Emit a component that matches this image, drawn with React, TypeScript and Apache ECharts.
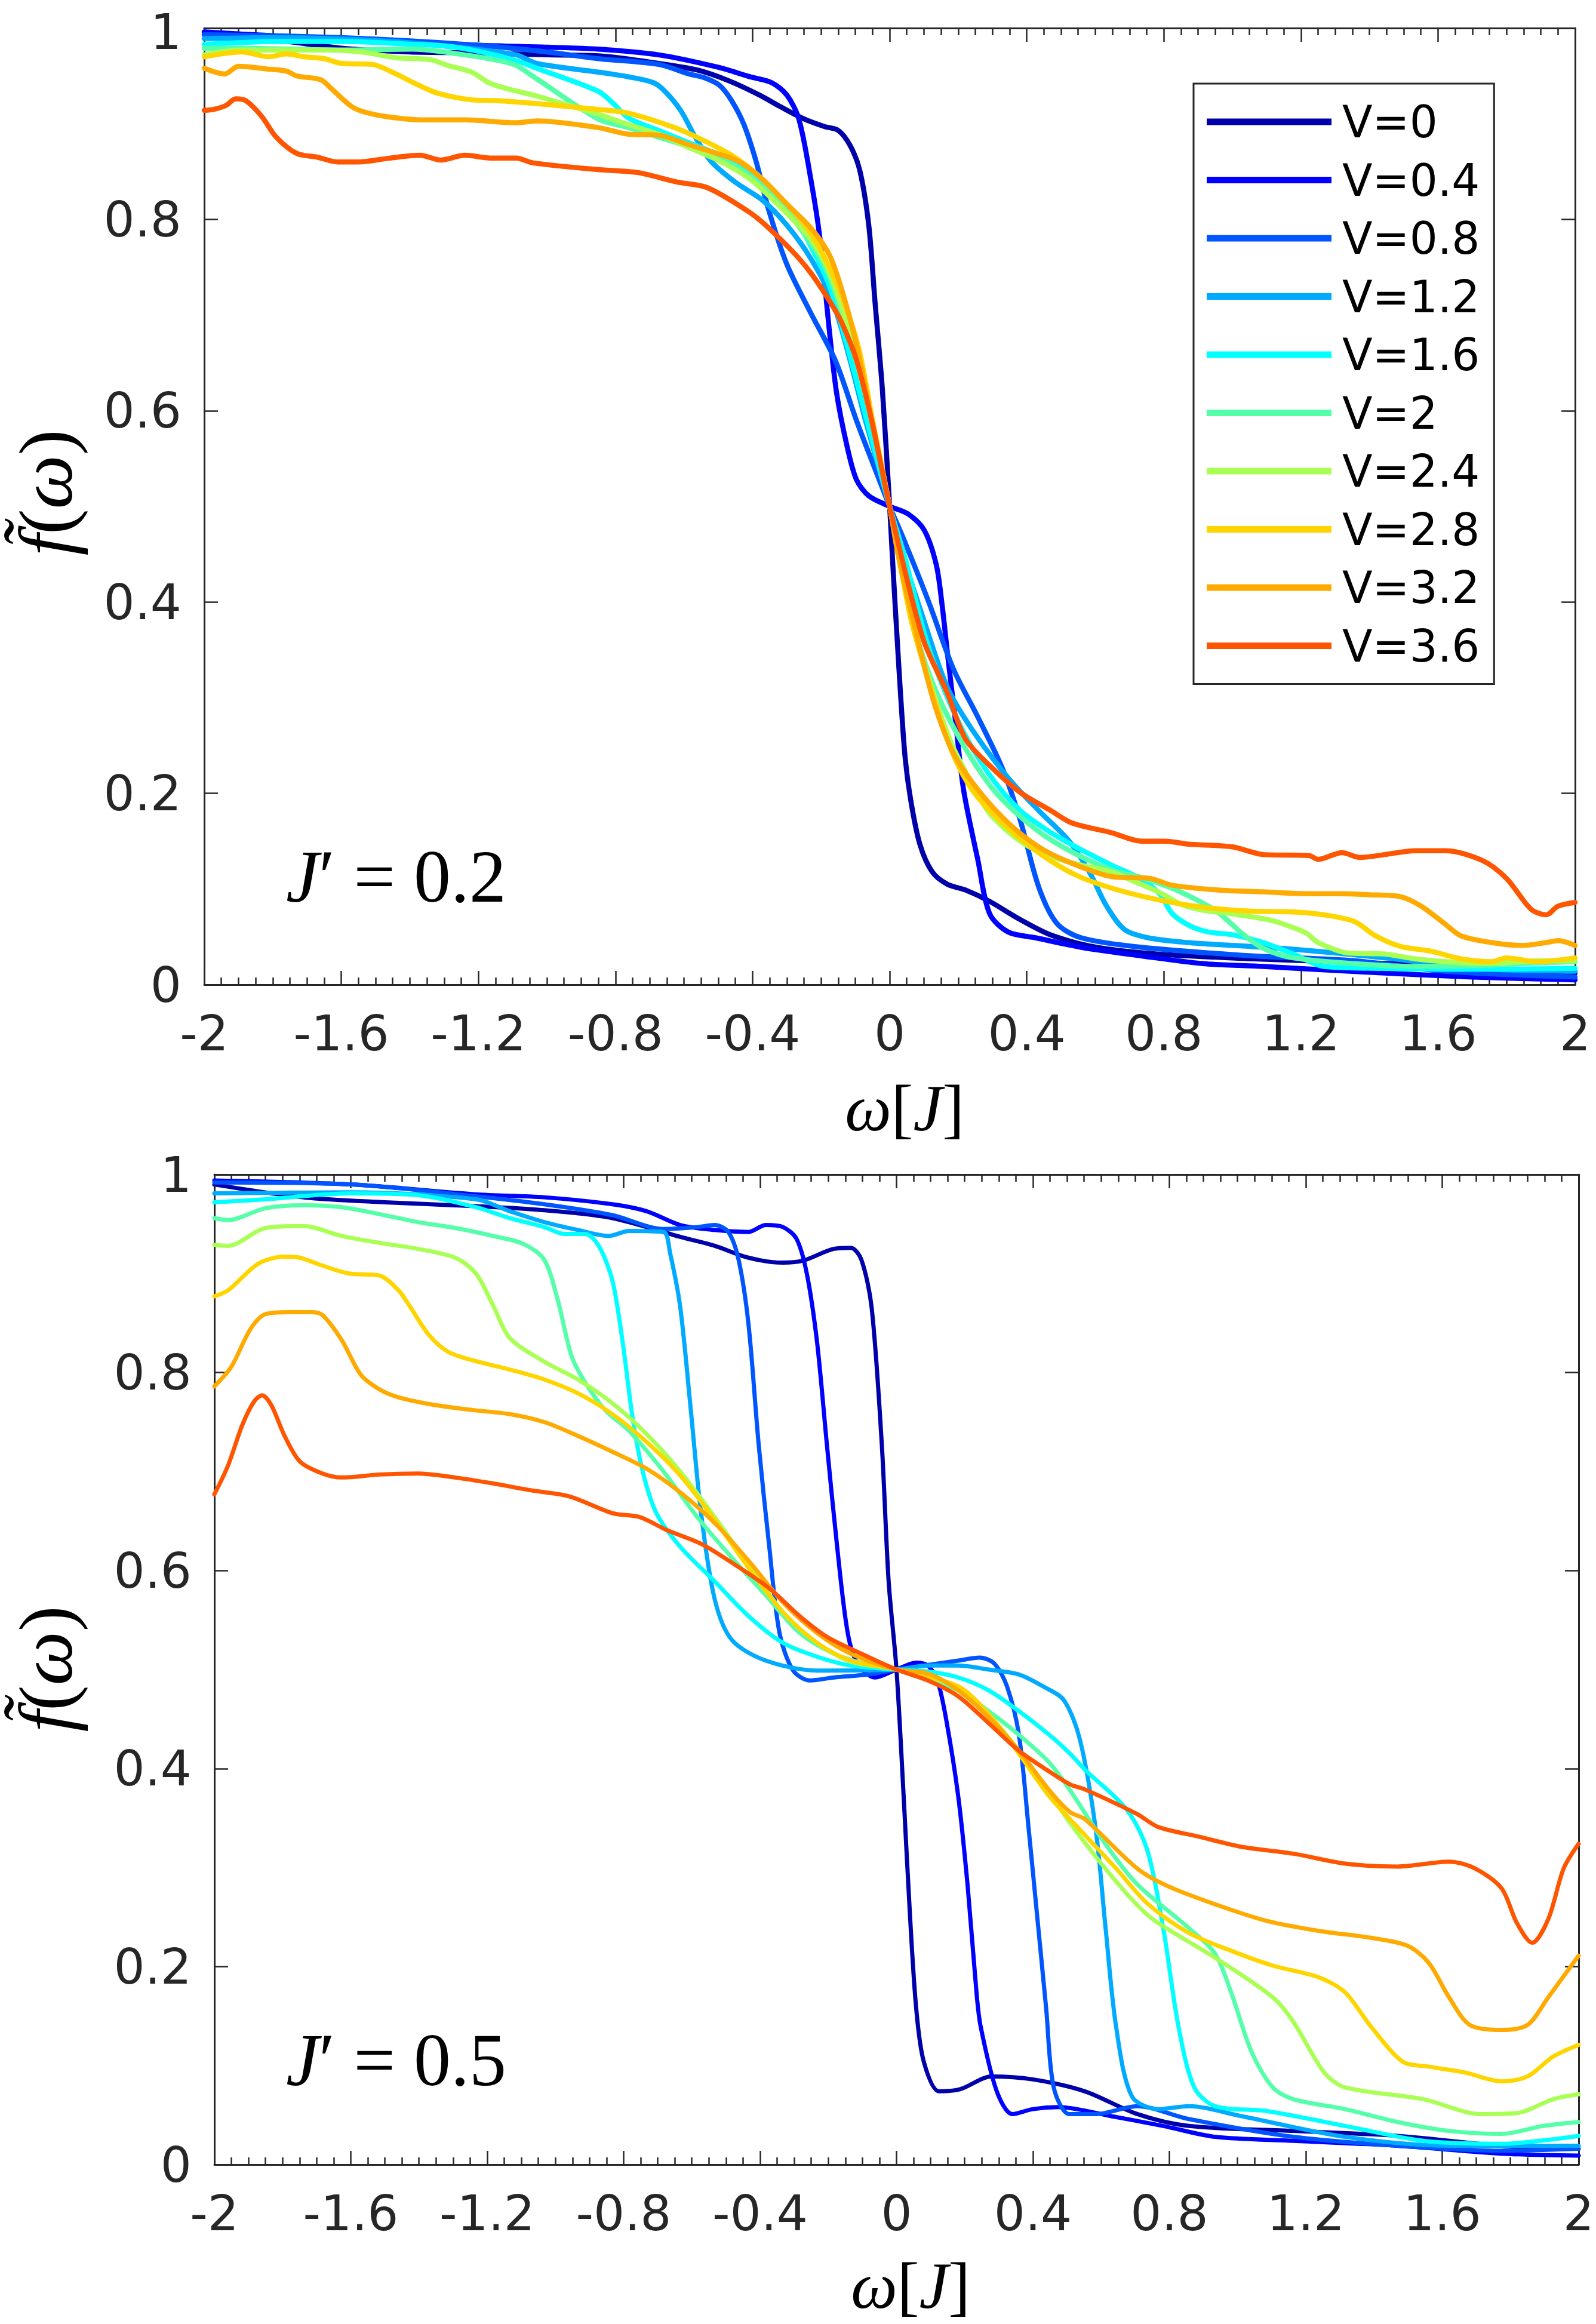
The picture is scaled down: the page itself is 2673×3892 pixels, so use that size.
import React, { useEffect, useRef } from "react";
import * as echarts from "echarts";

// ---------- legend / series meta ----------
const seriesNames = ["V=0", "V=0.4", "V=0.8", "V=1.2", "V=1.6", "V=2", "V=2.4", "V=2.8", "V=3.2", "V=3.6"];
const seriesColors = ["#0000AA", "#0000FF", "#0055FF", "#00AAFF", "#00FFFF", "#55FFAA", "#AAFF55", "#FFD500", "#FFAA00", "#FF5500"];

const xTickLabels = ["-2", "-1.6", "-1.2", "-0.8", "-0.4", "0", "0.4", "0.8", "1.2", "1.6", "2"];
const yTickLabels = ["0", "0.2", "0.4", "0.6", "0.8", "1"];

// ---------- top panel, J' = 0.2 : [omega, f] ----------
const topV0 = [[-2,0.993],[-1.8,0.988],[-1.6,0.979],[-1.4,0.975],[-1.2,0.974],[-1.0,0.972],[-0.85,0.971],[-0.674,0.963],[-0.56,0.956],[-0.47,0.945],[-0.38,0.93],[-0.32,0.918],[-0.25,0.905],[-0.19,0.897],[-0.15,0.893],[-0.115,0.877],[-0.087,0.851],[-0.061,0.794],[-0.043,0.715],[-0.021,0.621],[0,0.5],[0.008,0.447],[0.026,0.337],[0.044,0.242],[0.061,0.194],[0.088,0.147],[0.124,0.118],[0.168,0.105],[0.221,0.099],[0.292,0.087],[0.381,0.068],[0.47,0.052],[0.604,0.039],[0.781,0.032],[1.063,0.027],[1.3,0.024],[1.6,0.02],[2,0.012]];
const topV04 = [[-2,0.996],[-1.8,0.992],[-1.5,0.987],[-1.2,0.982],[-1.0,0.98],[-0.85,0.978],[-0.674,0.972],[-0.5,0.959],[-0.407,0.949],[-0.345,0.943],[-0.3,0.93],[-0.265,0.905],[-0.23,0.842],[-0.203,0.779],[-0.176,0.684],[-0.155,0.619],[-0.125,0.564],[-0.097,0.528],[-0.061,0.511],[0,0.5],[0.054,0.492],[0.101,0.475],[0.136,0.439],[0.153,0.397],[0.17,0.342],[0.193,0.273],[0.216,0.203],[0.257,0.131],[0.292,0.074],[0.346,0.055],[0.426,0.049],[0.559,0.039],[0.736,0.03],[0.914,0.022],[1.09,0.019],[1.4,0.013],[1.7,0.008],[2,0.005]];
const topV08 = [[-2,0.993],[-1.6,0.99],[-1.2,0.982],[-1.0,0.975],[-0.85,0.968],[-0.674,0.962],[-0.585,0.952],[-0.54,0.948],[-0.496,0.94],[-0.461,0.924],[-0.425,0.899],[-0.39,0.861],[-0.353,0.81],[-0.3,0.753],[-0.23,0.702],[-0.158,0.652],[-0.096,0.589],[-0.035,0.532],[0,0.5],[0.044,0.463],[0.114,0.4],[0.186,0.33],[0.257,0.28],[0.329,0.226],[0.381,0.172],[0.435,0.102],[0.488,0.064],[0.559,0.049],[0.736,0.039],[1.063,0.03],[1.356,0.025],[1.62,0.014],[2,0.008]];
const topV12 = [[-2,0.989],[-1.8,0.99],[-1.5,0.987],[-1.29,0.981],[-1.09,0.972],[-1.03,0.963],[-0.851,0.954],[-0.762,0.949],[-0.69,0.943],[-0.656,0.934],[-0.61,0.914],[-0.567,0.886],[-0.522,0.861],[-0.451,0.839],[-0.371,0.82],[-0.3,0.794],[-0.23,0.759],[-0.167,0.715],[-0.115,0.652],[-0.07,0.589],[0,0.5],[0.026,0.463],[0.097,0.384],[0.168,0.311],[0.24,0.267],[0.346,0.216],[0.435,0.182],[0.524,0.15],[0.587,0.115],[0.63,0.084],[0.684,0.058],[0.754,0.049],[0.87,0.044],[1.0,0.041],[1.178,0.037],[1.445,0.028],[1.711,0.017],[2,0.014]];
const topV16 = [[-2,0.983],[-1.79,0.986],[-1.59,0.986],[-1.39,0.983],[-1.29,0.981],[-1.19,0.975],[-1.09,0.966],[-1.03,0.958],[-0.851,0.934],[-0.806,0.921],[-0.762,0.906],[-0.674,0.893],[-0.585,0.88],[-0.496,0.867],[-0.425,0.851],[-0.353,0.829],[-0.282,0.804],[-0.23,0.772],[-0.176,0.731],[-0.124,0.668],[-0.07,0.595],[0,0.5],[0.044,0.447],[0.114,0.352],[0.203,0.273],[0.292,0.219],[0.381,0.182],[0.47,0.159],[0.559,0.141],[0.647,0.125],[0.736,0.11],[0.79,0.094],[0.825,0.074],[0.879,0.061],[0.931,0.055],[1.003,0.052],[1.09,0.044],[1.178,0.032],[1.267,0.019],[1.445,0.017],[1.7,0.016],[2,0.017]];
const topV20 = [[-2,0.979],[-1.9,0.979],[-1.59,0.977],[-1.39,0.978],[-1.24,0.972],[-1.14,0.966],[-1.09,0.961],[-1.03,0.947],[-0.851,0.905],[-0.762,0.896],[-0.674,0.886],[-0.585,0.876],[-0.496,0.864],[-0.407,0.845],[-0.319,0.816],[-0.23,0.775],[-0.176,0.74],[-0.12,0.68],[-0.06,0.6],[0,0.5],[0.06,0.39],[0.12,0.32],[0.2,0.26],[0.3,0.205],[0.4,0.17],[0.5,0.145],[0.646,0.12],[0.735,0.112],[0.823,0.101],[0.894,0.089],[0.957,0.076],[1.027,0.054],[1.09,0.038],[1.178,0.028],[1.356,0.022],[1.533,0.019],[1.711,0.02],[1.845,0.022],[2,0.024]];
const topV24 = [[-2,0.972],[-1.89,0.977],[-1.64,0.977],[-1.54,0.975],[-1.44,0.969],[-1.34,0.967],[-1.29,0.961],[-1.22,0.954],[-1.17,0.943],[-1.12,0.937],[-1.03,0.929],[-0.851,0.91],[-0.762,0.899],[-0.674,0.889],[-0.585,0.875],[-0.496,0.861],[-0.407,0.842],[-0.319,0.813],[-0.23,0.779],[-0.176,0.745],[-0.12,0.685],[-0.06,0.605],[0,0.5],[0.06,0.388],[0.114,0.32],[0.177,0.255],[0.24,0.21],[0.292,0.179],[0.381,0.15],[0.47,0.134],[0.559,0.125],[0.647,0.118],[0.7,0.11],[0.79,0.096],[0.85,0.084],[0.912,0.078],[1.0,0.074],[1.09,0.069],[1.135,0.065],[1.215,0.054],[1.25,0.044],[1.339,0.033],[1.445,0.032],[1.533,0.027],[1.622,0.024],[1.756,0.022],[1.889,0.025],[2,0.025]];
const topV28 = [[-2,0.97],[-1.89,0.975],[-1.81,0.97],[-1.76,0.973],[-1.71,0.97],[-1.65,0.968],[-1.6,0.963],[-1.51,0.962],[-1.44,0.952],[-1.39,0.943],[-1.32,0.932],[-1.22,0.925],[-1.14,0.924],[-1.03,0.921],[-0.851,0.915],[-0.762,0.911],[-0.628,0.896],[-0.54,0.882],[-0.461,0.867],[-0.39,0.848],[-0.319,0.823],[-0.247,0.794],[-0.194,0.763],[-0.14,0.72],[-0.09,0.665],[-0.05,0.59],[0,0.5],[0.061,0.384],[0.114,0.317],[0.177,0.248],[0.24,0.204],[0.329,0.169],[0.435,0.138],[0.541,0.115],[0.647,0.101],[0.78,0.089],[0.912,0.081],[1.046,0.077],[1.178,0.076],[1.267,0.073],[1.356,0.066],[1.418,0.051],[1.49,0.04],[1.579,0.035],[1.667,0.027],[1.756,0.024],[1.8,0.028],[1.889,0.024],[2,0.028]];
const topV32 = [[-2,0.958],[-1.94,0.952],[-1.9,0.96],[-1.81,0.957],[-1.76,0.955],[-1.73,0.95],[-1.66,0.946],[-1.63,0.937],[-1.57,0.918],[-1.53,0.912],[-1.46,0.907],[-1.36,0.904],[-1.24,0.904],[-1.09,0.901],[-1.03,0.903],[-0.851,0.896],[-0.762,0.889],[-0.674,0.888],[-0.585,0.878],[-0.513,0.87],[-0.442,0.861],[-0.371,0.842],[-0.3,0.816],[-0.23,0.791],[-0.176,0.763],[-0.141,0.728],[-0.096,0.668],[-0.052,0.589],[0,0.5],[0.026,0.447],[0.088,0.352],[0.132,0.292],[0.186,0.242],[0.257,0.204],[0.346,0.169],[0.435,0.144],[0.524,0.128],[0.647,0.113],[0.761,0.111],[0.823,0.104],[0.957,0.099],[1.09,0.097],[1.223,0.095],[1.312,0.095],[1.4,0.094],[1.49,0.092],[1.551,0.082],[1.622,0.063],[1.667,0.051],[1.756,0.044],[1.845,0.041],[1.916,0.044],[1.951,0.046],[2,0.041]];
const topV36 = [[-2,0.914],[-1.972,0.915],[-1.937,0.919],[-1.908,0.926],[-1.878,0.924],[-1.833,0.908],[-1.79,0.886],[-1.73,0.869],[-1.67,0.865],[-1.61,0.86],[-1.55,0.86],[-1.46,0.864],[-1.37,0.867],[-1.31,0.862],[-1.24,0.867],[-1.16,0.864],[-1.09,0.864],[-1.04,0.859],[-0.851,0.852],[-0.736,0.849],[-0.62,0.839],[-0.531,0.833],[-0.407,0.807],[-0.353,0.791],[-0.282,0.766],[-0.23,0.744],[-0.176,0.715],[-0.141,0.693],[-0.096,0.652],[-0.052,0.589],[0,0.5],[0.097,0.362],[0.168,0.305],[0.221,0.257],[0.292,0.229],[0.381,0.201],[0.47,0.182],[0.532,0.169],[0.646,0.159],[0.735,0.15],[0.806,0.15],[0.868,0.147],[1.0,0.144],[1.09,0.136],[1.223,0.135],[1.25,0.131],[1.32,0.138],[1.373,0.133],[1.445,0.136],[1.533,0.14],[1.622,0.14],[1.728,0.13],[1.8,0.111],[1.871,0.079],[1.916,0.073],[1.95,0.082],[2,0.086]];

// ---------- bottom panel, J' = 0.5 : [omega, f] ----------
const botV0 = [[-2,0.99],[-1.74,0.977],[-1.5,0.972],[-1.233,0.968],[-1.033,0.964],[-0.833,0.956],[-0.634,0.937],[-0.533,0.928],[-0.434,0.916],[-0.333,0.911],[-0.274,0.913],[-0.183,0.925],[-0.134,0.926],[-0.103,0.914],[-0.073,0.866],[-0.043,0.727],[-0.023,0.589],[0,0.5],[0.021,0.372],[0.04,0.249],[0.058,0.157],[0.08,0.104],[0.125,0.074],[0.186,0.076],[0.279,0.089],[0.4,0.086],[0.552,0.074],[0.706,0.051],[0.857,0.039],[1.164,0.034],[1.469,0.029],[1.774,0.019],[2,0.016]];
const botV04 = [[-2,0.994],[-1.6,0.99],[-1.233,0.98],[-1.033,0.977],[-0.833,0.97],[-0.733,0.963],[-0.634,0.949],[-0.533,0.944],[-0.434,0.942],[-0.383,0.949],[-0.333,0.947],[-0.293,0.935],[-0.263,0.9],[-0.233,0.831],[-0.204,0.727],[-0.174,0.624],[-0.143,0.537],[-0.113,0.505],[-0.063,0.492],[0,0.5],[0.058,0.507],[0.092,0.504],[0.12,0.489],[0.146,0.449],[0.181,0.372],[0.209,0.28],[0.235,0.172],[0.247,0.139],[0.294,0.074],[0.34,0.051],[0.4,0.056],[0.477,0.058],[0.628,0.049],[0.782,0.039],[0.934,0.028],[1.164,0.024],[1.469,0.019],[1.774,0.011],[2,0.009]];
const botV08 = [[-2,0.992],[-1.6,0.99],[-1.233,0.978],[-1.033,0.97],[-0.833,0.959],[-0.683,0.945],[-0.584,0.947],[-0.533,0.949],[-0.493,0.942],[-0.463,0.914],[-0.434,0.849],[-0.404,0.727],[-0.373,0.624],[-0.343,0.537],[-0.303,0.499],[-0.253,0.489],[-0.183,0.492],[-0.084,0.495],[0,0.5],[0.181,0.509],[0.244,0.512],[0.287,0.506],[0.324,0.483],[0.359,0.434],[0.387,0.341],[0.413,0.249],[0.439,0.157],[0.461,0.078],[0.507,0.051],[0.584,0.051],[0.706,0.059],[0.857,0.046],[1.164,0.028],[1.469,0.019],[1.774,0.014],[2,0.016]];
const botV12 = [[-2,0.981],[-1.6,0.982],[-1.233,0.975],[-1.134,0.963],[-1.033,0.952],[-0.934,0.944],[-0.843,0.938],[-0.784,0.943],[-0.683,0.942],[-0.664,0.921],[-0.634,0.866],[-0.603,0.762],[-0.573,0.658],[-0.533,0.571],[-0.483,0.53],[-0.383,0.509],[-0.233,0.499],[0,0.5],[0.092,0.504],[0.181,0.504],[0.27,0.5],[0.359,0.495],[0.43,0.483],[0.491,0.469],[0.538,0.429],[0.584,0.339],[0.613,0.239],[0.644,0.139],[0.69,0.069],[0.767,0.056],[0.857,0.059],[1.01,0.049],[1.315,0.028],[1.62,0.019],[2,0.019]];
const botV16 = [[-2,0.972],[-1.85,0.975],[-1.6,0.981],[-1.4,0.979],[-1.233,0.967],[-1.134,0.956],[-1.033,0.947],[-0.974,0.94],[-0.913,0.94],[-0.873,0.928],[-0.833,0.893],[-0.803,0.831],[-0.774,0.755],[-0.744,0.7],[-0.704,0.658],[-0.634,0.624],[-0.533,0.589],[-0.434,0.554],[-0.333,0.527],[-0.233,0.513],[-0.134,0.504],[0,0.5],[0.092,0.498],[0.181,0.492],[0.27,0.479],[0.359,0.458],[0.448,0.434],[0.509,0.415],[0.552,0.399],[0.674,0.359],[0.735,0.318],[0.782,0.239],[0.827,0.139],[0.873,0.078],[0.934,0.059],[1.087,0.054],[1.315,0.039],[1.545,0.024],[1.774,0.021],[2,0.029]];
const botV20 = [[-2,0.956],[-1.96,0.954],[-1.85,0.966],[-1.739,0.969],[-1.627,0.967],[-1.516,0.96],[-1.404,0.952],[-1.294,0.946],[-1.183,0.938],[-1.094,0.93],[-1.033,0.914],[-0.993,0.873],[-0.953,0.817],[-0.913,0.79],[-0.854,0.762],[-0.784,0.741],[-0.683,0.7],[-0.584,0.654],[-0.483,0.613],[-0.383,0.575],[-0.284,0.537],[-0.183,0.516],[-0.084,0.505],[0,0.5],[0.181,0.479],[0.27,0.458],[0.359,0.434],[0.448,0.406],[0.509,0.378],[0.61,0.325],[0.706,0.283],[0.857,0.239],[0.934,0.213],[0.981,0.174],[1.042,0.113],[1.103,0.078],[1.164,0.066],[1.315,0.056],[1.469,0.043],[1.62,0.034],[1.774,0.031],[1.895,0.039],[2,0.043]];
const botV24 = [[-2,0.929],[-1.96,0.928],[-1.85,0.946],[-1.739,0.948],[-1.627,0.938],[-1.516,0.931],[-1.404,0.925],[-1.294,0.916],[-1.233,0.9],[-1.183,0.868],[-1.134,0.835],[-1.033,0.811],[-0.934,0.793],[-0.833,0.769],[-0.733,0.738],[-0.634,0.7],[-0.533,0.654],[-0.434,0.606],[-0.333,0.558],[-0.233,0.527],[-0.134,0.508],[0,0.5],[0.181,0.482],[0.27,0.455],[0.359,0.418],[0.448,0.376],[0.509,0.345],[0.61,0.3],[0.706,0.262],[0.767,0.244],[0.934,0.209],[1.103,0.169],[1.164,0.144],[1.254,0.093],[1.315,0.078],[1.545,0.066],[1.713,0.051],[1.819,0.052],[1.925,0.066],[2,0.071]];
const botV28 = [[-2,0.877],[-1.96,0.883],[-1.871,0.91],[-1.794,0.917],[-1.749,0.916],[-1.683,0.908],[-1.605,0.9],[-1.516,0.898],[-1.46,0.883],[-1.427,0.867],[-1.371,0.838],[-1.315,0.821],[-1.239,0.812],[-1.134,0.803],[-1.033,0.793],[-0.934,0.779],[-0.833,0.758],[-0.733,0.73],[-0.634,0.696],[-0.533,0.651],[-0.434,0.603],[-0.333,0.558],[-0.233,0.527],[-0.134,0.509],[0,0.5],[0.181,0.483],[0.27,0.455],[0.359,0.415],[0.448,0.372],[0.552,0.333],[0.644,0.299],[0.735,0.264],[0.857,0.234],[0.981,0.216],[1.103,0.201],[1.239,0.189],[1.315,0.174],[1.392,0.139],[1.484,0.104],[1.56,0.099],[1.667,0.093],[1.774,0.084],[1.85,0.089],[1.925,0.109],[2,0.121]];
const botV32 = [[-2,0.786],[-1.95,0.806],[-1.894,0.844],[-1.85,0.859],[-1.782,0.861],[-1.716,0.861],[-1.683,0.858],[-1.627,0.833],[-1.571,0.798],[-1.516,0.783],[-1.46,0.775],[-1.35,0.767],[-1.239,0.762],[-1.134,0.758],[-1.033,0.75],[-0.934,0.736],[-0.833,0.72],[-0.733,0.703],[-0.634,0.679],[-0.533,0.648],[-0.434,0.61],[-0.333,0.568],[-0.233,0.537],[-0.134,0.516],[0,0.5],[0.092,0.496],[0.181,0.479],[0.27,0.452],[0.359,0.418],[0.448,0.378],[0.509,0.356],[0.552,0.349],[0.706,0.299],[0.797,0.281],[0.95,0.261],[1.087,0.246],[1.239,0.236],[1.392,0.229],[1.498,0.221],[1.56,0.204],[1.62,0.169],[1.681,0.141],[1.774,0.136],[1.85,0.141],[1.911,0.169],[2,0.211]];
const botV36 = [[-2,0.677],[-1.96,0.706],[-1.917,0.748],[-1.883,0.771],[-1.86,0.777],[-1.833,0.767],[-1.794,0.736],[-1.749,0.71],[-1.683,0.698],[-1.627,0.694],[-1.516,0.697],[-1.404,0.698],[-1.294,0.694],[-1.183,0.688],[-1.071,0.681],[-0.96,0.675],[-0.833,0.658],[-0.753,0.654],[-0.674,0.641],[-0.573,0.627],[-0.474,0.606],[-0.373,0.582],[-0.284,0.554],[-0.204,0.533],[-0.103,0.516],[0,0.5],[0.092,0.489],[0.181,0.473],[0.27,0.446],[0.359,0.418],[0.448,0.397],[0.509,0.384],[0.552,0.379],[0.706,0.354],[0.767,0.341],[0.889,0.331],[1.01,0.321],[1.164,0.314],[1.315,0.304],[1.469,0.301],[1.62,0.306],[1.697,0.299],[1.774,0.279],[1.819,0.244],[1.864,0.224],[1.911,0.248],[1.956,0.299],[2,0.324]];

const topData = [topV0, topV04, topV08, topV12, topV16, topV20, topV24, topV28, topV32, topV36];
const botData = [botV0, botV04, botV08, botV12, botV16, botV20, botV24, botV28, botV32, botV36];

const AX = "#262626";
const TICK_FONT = "'DejaVu Sans', sans-serif";
const MATH_FONT = "'Liberation Serif', 'DejaVu Serif', serif";

function fmt(v: number) {
  const r = Math.round(v * 10) / 10;
  return String(r === 0 ? 0 : r);
}

function makeX(gridIndex: number, pos: "bottom" | "top") {
  return {
    type: "value",
    gridIndex,
    position: pos,
    min: -2,
    max: 2,
    interval: 0.4,
    axisLine: { show: true, onZero: false, lineStyle: { color: AX, width: 3 } },
    axisTick: { show: true, inside: true, length: 23, lineStyle: { color: AX, width: 2.5 } },
    minorTick: { show: true, splitNumber: 8, length: 12, lineStyle: { color: AX, width: 2.5 } },
    splitLine: { show: false },
    axisLabel: {
      show: pos === "bottom",
      margin: 40,
      fontFamily: TICK_FONT,
      fontSize: 82,
      color: AX,
      formatter: (v: number) => {
        const s = fmt(v);
        return xTickLabels.indexOf(s) >= 0 ? s : "";
      },
    },
  };
}

function makeY(gridIndex: number, pos: "left" | "right", nudgeTop: boolean) {
  return {
    type: "value",
    gridIndex,
    position: pos,
    min: 0,
    max: 1,
    interval: 0.2,
    axisLine: { show: true, onZero: false, lineStyle: { color: AX, width: 3 } },
    axisTick: { show: true, inside: true, length: 23, lineStyle: { color: AX, width: 2.5 } },
    splitLine: { show: false },
    axisLabel: {
      show: pos === "left",
      margin: 38,
      fontFamily: TICK_FONT,
      fontSize: 82,
      color: AX,
      rich: {
        t: {
          fontFamily: TICK_FONT,
          fontSize: 82,
          color: AX,
          lineHeight: 40,
          padding: [12, 0, 0, 0],
        },
      },
      formatter: (v: number) => {
        const s = fmt(v);
        if (yTickLabels.indexOf(s) < 0) return "";
        return nudgeTop && s === "1" ? "{t|1}" : s;
      },
    },
  };
}

function mathRich(size: number) {
  return {
    i: { fontFamily: MATH_FONT, fontStyle: "italic", fontSize: size, fill: "#000" },
    n: { fontFamily: MATH_FONT, fontStyle: "normal", fontSize: size, fill: "#000" },
  };
}

function xTitle(x: number, y: number) {
  return {
    type: "text",
    x,
    y,
    style: {
      text: "{i|ω}{n|[}{i|J}{n|]}",
      rich: mathRich(110),
      align: "center",
      verticalAlign: "middle",
      fill: "#000",
    },
  };
}

function yTitle(x: number, y: number) {
  return {
    type: "text",
    x,
    y,
    rotation: Math.PI / 2,
    style: {
      text: "{i|f\u0303}{n|(}{i|ω}{n|)}",
      rich: mathRich(128),
      align: "center",
      verticalAlign: "middle",
      fill: "#000",
    },
  };
}

function annot(x: number, y: number, val: string) {
  return {
    type: "text",
    x,
    y,
    style: {
      text: "{i|J}{n|\u2032 = " + val + "}",
      rich: mathRich(124),
      align: "left",
      verticalAlign: "middle",
      fill: "#000",
    },
  };
}

export default function App() {
  const ref = useRef<HTMLDivElement>(null);
  useEffect(() => {
    if (!ref.current) return;
    const chart = echarts.init(ref.current, undefined, { renderer: "svg" });
    const series: any[] = [];
    seriesNames.forEach((name, i) => {
      series.push({
        type: "line",
        name,
        xAxisIndex: 0,
        yAxisIndex: 0,
        data: topData[i],
        symbol: "none",
        showSymbol: false,
        smooth: 0.3,
        lineStyle: { color: seriesColors[i], width: 8.5, join: "round", cap: "round" },
        itemStyle: { color: seriesColors[i] },
        z: 2 + i,
      });
    });
    seriesNames.forEach((name, i) => {
      series.push({
        type: "line",
        name,
        xAxisIndex: 2,
        yAxisIndex: 2,
        data: botData[i],
        symbol: "none",
        showSymbol: false,
        smooth: 0.3,
        lineStyle: { color: seriesColors[i], width: 7, join: "round", cap: "round" },
        itemStyle: { color: seriesColors[i] },
        z: 2 + i,
      });
    });
    chart.setOption({
      animation: false,
      backgroundColor: "#ffffff",
      grid: [
        { left: 342, top: 34, width: 2296, height: 1615, containLabel: false },
        { left: 359, top: 1967, width: 2296, height: 1658, containLabel: false },
      ],
      xAxis: [makeX(0, "bottom"), makeX(0, "top"), makeX(1, "bottom"), makeX(1, "top")],
      yAxis: [makeY(0, "left", true), makeY(0, "right", false), makeY(1, "left", false), makeY(1, "right", false)],
      legend: {
        data: seriesNames.map((n, i) => ({ name: n, icon: "rect", itemStyle: { color: seriesColors[i] } })),
        orient: "vertical",
        left: 1999,
        top: 140,
        padding: [27, 24, 27, 22],
        itemWidth: 209,
        itemHeight: 11,
        itemGap: 23.5,
        borderColor: AX,
        borderWidth: 3,
        backgroundColor: "#ffffff",
        textStyle: {
          fontFamily: TICK_FONT,
          fontSize: 74,
          color: "#000",
          padding: [0, 0, 0, 13],
        },
        selectedMode: false,
        z: 50,
      },
      graphic: [
        xTitle(1515, 1856),
        xTitle(1525, 3828),
        yTitle(77, 825),
        yTitle(77, 2795),
        annot(479, 1468, "0.2"),
        annot(479, 3450, "0.5"),
      ],
      series,
    });
    return () => chart.dispose();
  }, []);
  return (
    <div
      ref={ref}
      style={{ position: "absolute", left: 0, top: 0, width: 2673, height: 3892, background: "#fff" }}
    />
  );
}
